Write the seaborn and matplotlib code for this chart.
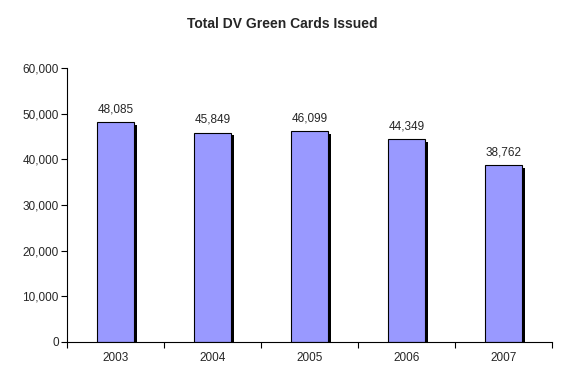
import matplotlib
matplotlib.use("Agg")
import matplotlib.pyplot as plt
import matplotlib.patheffects as pe
from matplotlib.ticker import FuncFormatter, FixedLocator
import seaborn as sns
import pandas as pd

# data
years = ["2003", "2004", "2005", "2006", "2007"]
cards_issued = [48085, 45849, 46099, 44349, 38762]

sns.set_style("white")
plt.rcParams['font.family'] = ['Liberation Sans', 'DejaVu Sans']

df = pd.DataFrame({"year": years, "cards": cards_issued})

fig = plt.figure(figsize=(5.64, 3.87), dpi=100)
ax = fig.add_axes([67 / 564, 45 / 387, 485 / 564, 274 / 387])

sns.barplot(data=df, x="year", y="cards", color="#9999FF", saturation=1,
            width=0.39, edgecolor="black", linewidth=0.8, ax=ax)

# excel style drop shadow on each bar
for bar in ax.patches:
    bar.set_path_effects([pe.SimplePatchShadow(offset=(2.2, -2), shadow_rgbFace="black", alpha=1),
                          pe.Normal()])

# value labels above bars
for i, v in enumerate(cards_issued):
    ax.annotate(f"{v:,}", (i, v), xytext=(0, 5), textcoords="offset points",
                ha="center", va="bottom", fontsize=8.5)

ax.set_ylim(0, 60000)
ax.set_xlim(-0.5, len(years) - 0.5)
ax.set_yticks(range(0, 60001, 10000))
ax.yaxis.set_major_formatter(FuncFormatter(lambda v, p: f"{int(v):,}"))

# tick marks between categories like excel
ax.xaxis.set_minor_locator(FixedLocator([i - 0.5 for i in range(len(years) + 1)]))
ax.tick_params(axis="x", which="major", length=0, pad=7, labelsize=8.5)
ax.tick_params(axis="x", which="minor", length=4, width=0.8, color="black", direction="out", bottom=True)
ax.tick_params(axis="y", length=4, width=0.8, color="black", direction="out", left=True, labelsize=8.5, pad=2)

ax.set_xlabel("")
ax.set_ylabel("")
for side in ["top", "right"]:
    ax.spines[side].set_visible(False)
for side in ["left", "bottom"]:
    ax.spines[side].set_color("black")
    ax.spines[side].set_linewidth(0.8)

fig.text(0.5, 1 - 24 / 387, "Total DV Green Cards Issued", ha="center", va="center",
         fontsize=10, fontweight="bold")

fig.savefig("out.png", dpi=100)
